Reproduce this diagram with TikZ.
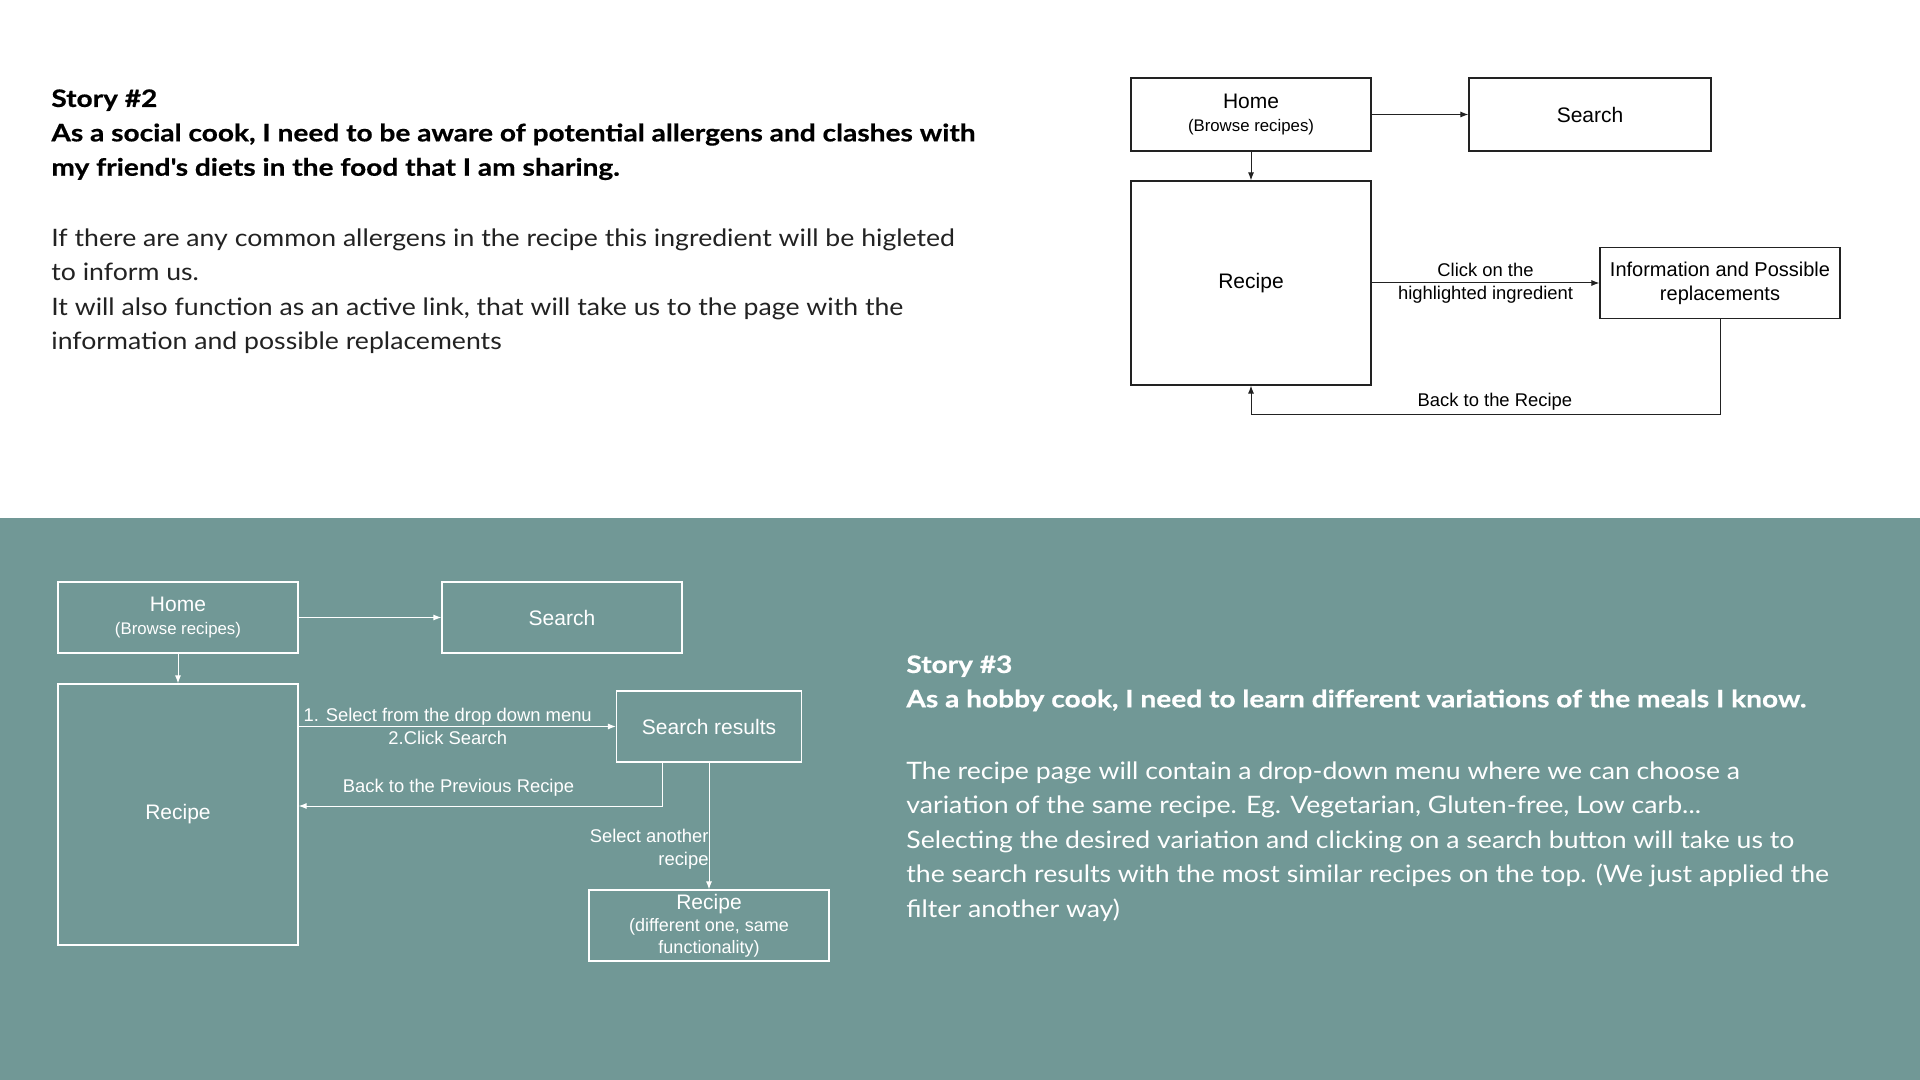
\documentclass[tikz,border=0pt]{standalone}
\usepackage{fontspec}
\setmainfont{Lato}
\newfontfamily\headfont[FakeStretch=1.17,FakeBold=0.6]{Lato}
\newfontfamily\bodyfont[FakeStretch=1.11]{Lato}
\newfontfamily\diagfont{Liberation Sans}
\usetikzlibrary{arrows.meta}
\definecolor{bandteal}{RGB}{113,152,150}
\definecolor{inkgrey}{RGB}{34,34,34}

\begin{document}
\begin{tikzpicture}[x=0.5pt,y=-0.5pt,
  box/.style={draw,line width=0.6pt,inner sep=0pt,align=center,font=\diagfont\fontsize{10.5}{11.5}\selectfont},
  topbox/.style={box,draw=inkgrey,text=black},
  botbox/.style={box,draw=white,text=white},
  arr/.style={-{Latex[length=4pt,width=3pt]},line width=0.5pt,draw=inkgrey},
  warr/.style={arr,draw=white},
  lbl/.style={font=\diagfont\fontsize{9.2}{11.5}\selectfont,align=center,inner sep=0pt},
  storyhead/.style={anchor=north west,inner sep=0pt,align=left,font=\headfont\bfseries\fontsize{12}{17.2}\selectfont},
  storybody/.style={anchor=north west,inner sep=0pt,align=left,font=\bodyfont\fontsize{12}{17.3}\selectfont}
]
\useasboundingbox (0,0) rectangle (1920,1080);
\fill[white] (0,0) rectangle (1920,518);
\fill[bandteal] (0,518) rectangle (1920,1080);

% story 2 text
\node[storyhead,text=black] (head2) at (51,89) {Story \#2\\As a social cook, I need to be aware of potential allergens and clashes with\\my friend\textquotesingle s diets in the food that I am sharing.};
\node[storybody,text=inkgrey] (body2) at (51,228) {If there are any common allergens in the recipe this ingredient will be higleted\\to inform us.\\It will also function as an active link, that will take us to the page with the\\information and possible replacements};

% story 2 flow
\node[topbox,minimum width=120pt,minimum height=36.5pt] (home) at (1251,114.5) {Home\\{\fontsize{8.4}{10}\selectfont (Browse recipes)}};
\node[topbox,minimum width=121pt,minimum height=36.5pt] (search) at (1590,114.5) {Search};
\node[topbox,minimum width=120pt,minimum height=102pt] (recipe) at (1251,283) {Recipe};
\node[topbox,minimum width=120pt,minimum height=35.5pt,font=\diagfont\fontsize{10}{12}\selectfont] (info) at (1720,283) {Information and Possible\\replacements};
\coordinate (infoturn) at (1720,414);
\draw[arr] (home) -- (search);
\draw[arr] (home) -- (recipe);
\draw[arr] (recipe) -- (info) node[lbl,midway] {Click on the\\highlighted ingredient};
\draw[arr] (info) -- (infoturn) -| (recipe) node[lbl,pos=0.24,above=1.5pt] {Back to the Recipe};

% story 3 flow
\node[botbox,minimum width=120pt,minimum height=35.5pt] (home2) at (178,617.5) {Home\\{\fontsize{8.4}{10}\selectfont (Browse recipes)}};
\node[botbox,minimum width=120pt,minimum height=35.5pt] (search2) at (562,617.5) {Search};
\node[botbox,minimum width=120pt,minimum height=130.5pt] (recipe2) at (178,814.5) {Recipe};
\node[botbox,minimum width=92.5pt,minimum height=35.5pt] (res) at (709,726.5) {Search results};
\node[botbox,minimum width=120pt,minimum height=35.5pt,font=\diagfont\fontsize{10.5}{11}\selectfont] (recipe3) at (709,925.5) {Recipe\\{\fontsize{9}{11}\selectfont (different one, same}\\{\fontsize{9}{11}\selectfont functionality)}};
\coordinate (resturn) at (662,806);
\draw[warr] (home2) -- (search2);
\draw[warr] (home2) -- (recipe2);
\draw[warr] (res.west -| recipe2.east) -- (res) node[lbl,text=white,pos=0.47,align=center] {1. Select from the drop down menu\\2.Click Search};
\draw[warr] (resturn |- res.south) -- (resturn) -- (resturn -| recipe2.east) node[lbl,text=white,pos=0.56,above=4.5pt] {Back to the Previous Recipe};
\draw[warr] (res) -- (recipe3) node[lbl,text=white,pos=0.68,anchor=east,align=right] {Select another\\recipe};

% story 3 text
\node[storyhead,text=white] (head3) at (906,655) {Story \#3\\As a hobby cook, I need to learn different variations of the meals I know.};
\node[storybody,text=white] (body3) at (906,761) {The recipe page will contain a drop-down menu where we can choose a\\variation of the same recipe. Eg. Vegetarian, Gluten-free, Low carb...\\Selecting the desired variation and clicking on a search button will take us to\\the search results with the most similar recipes on the top. (We just applied the\\filter another way)};
\end{tikzpicture}
\end{document}
